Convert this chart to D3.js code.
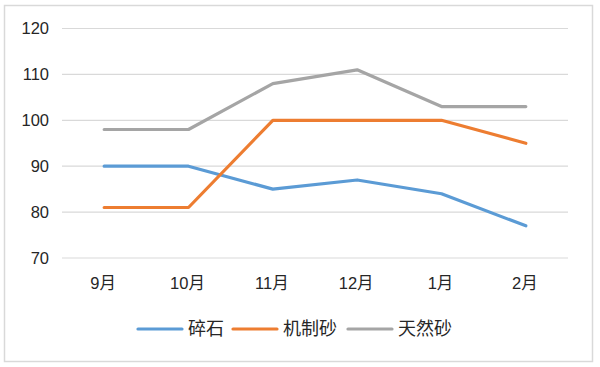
<!DOCTYPE html>
<html>
<head>
<meta charset="utf-8">
<script src="https://cdn.jsdelivr.net/npm/d3@7"></script>
<style>
  body { margin: 0; background: #fff; }
  svg { display: block; }
</style>
</head>
<body>
<svg id="chart" width="600" height="367"></svg>
<script>
// 数据
const months = ["9月", "10月", "11月", "12月", "1月", "2月"];
const suishi = [90, 90, 85, 87, 84, 77];
const jizhisha = [81, 81, 100, 100, 100, 95];
const tianransha = [98, 98, 108, 111, 103, 103];
const yTicks = [70, 80, 90, 100, 110, 120];

const series = [
    { name: "碎石", values: suishi, color: "#5B9BD5" },
    { name: "机制砂", values: jizhisha, color: "#ED7D31" },
    { name: "天然砂", values: tianransha, color: "#A5A5A5" }
];

const svg = d3.select("#chart"),
    width = +svg.attr("width"),
    height = +svg.attr("height");

const font = "'Liberation Sans', 'Noto Sans CJK SC', sans-serif";
const textColor = "#262626";

// 外框
svg.append("rect")
    .attr("x", 4.5).attr("y", 5.5)
    .attr("width", 588).attr("height", 356)
    .attr("fill", "#fff")
    .attr("stroke", "#D9D9D9")
    .attr("stroke-width", 1.5);

const margin = { left: 62, right: 32, top: 28.5, bottom: 109 };

const x = d3.scaleBand()
    .domain(months)
    .range([margin.left, width - margin.right]);

const y = d3.scaleLinear()
    .domain([70, 120])
    .range([height - margin.bottom, margin.top]);

// 网格线
svg.append("g")
    .selectAll("line")
    .data(yTicks)
    .enter().append("line")
    .attr("x1", margin.left)
    .attr("x2", width - margin.right)
    .attr("y1", d => y(d))
    .attr("y2", d => y(d))
    .attr("stroke", "#D9D9D9")
    .attr("stroke-width", 1.2);

// Y 轴标签
svg.append("g")
    .selectAll("text")
    .data(yTicks)
    .enter().append("text")
    .attr("x", margin.left - 13)
    .attr("y", d => y(d))
    .attr("dy", "0.36em")
    .attr("text-anchor", "end")
    .attr("font-family", font)
    .attr("font-size", "16.5px")
    .attr("fill", textColor)
    .text(d => d);

// X 轴标签
svg.append("g")
    .selectAll("text")
    .data(months)
    .enter().append("text")
    .attr("x", d => x(d) + x.bandwidth() / 2 - 1)
    .attr("y", 283)
    .attr("dy", "0.36em")
    .attr("text-anchor", "middle")
    .attr("font-family", font)
    .attr("font-size", "16.5px")
    .attr("fill", textColor)
    .text(d => d);

// 折线
const line = d3.line()
    .x((d, i) => x(months[i]) + x.bandwidth() / 2)
    .y(d => y(d));

svg.append("g")
    .selectAll("path")
    .data(series)
    .enter().append("path")
    .attr("d", d => line(d.values))
    .attr("fill", "none")
    .attr("stroke", d => d.color)
    .attr("stroke-width", 3.2)
    .attr("stroke-linejoin", "round")
    .attr("stroke-linecap", "round");

// 图例
const legendX = [138, 233, 348];
const legend = svg.append("g")
    .selectAll("g")
    .data(series)
    .enter().append("g")
    .attr("transform", (d, i) => `translate(${legendX[i]},329)`);

legend.append("line")
    .attr("x1", 0).attr("x2", 44)
    .attr("y1", 0).attr("y2", 0)
    .attr("stroke", d => d.color)
    .attr("stroke-width", 3.2)
    .attr("stroke-linecap", "round");

legend.append("text")
    .attr("x", 50)
    .attr("y", 0)
    .attr("dy", "0.36em")
    .attr("font-family", "'Noto Sans CJK SC', sans-serif")
    .attr("font-size", "18px")
    .attr("fill", textColor)
    .text(d => d.name);
</script>
</body>
</html>
